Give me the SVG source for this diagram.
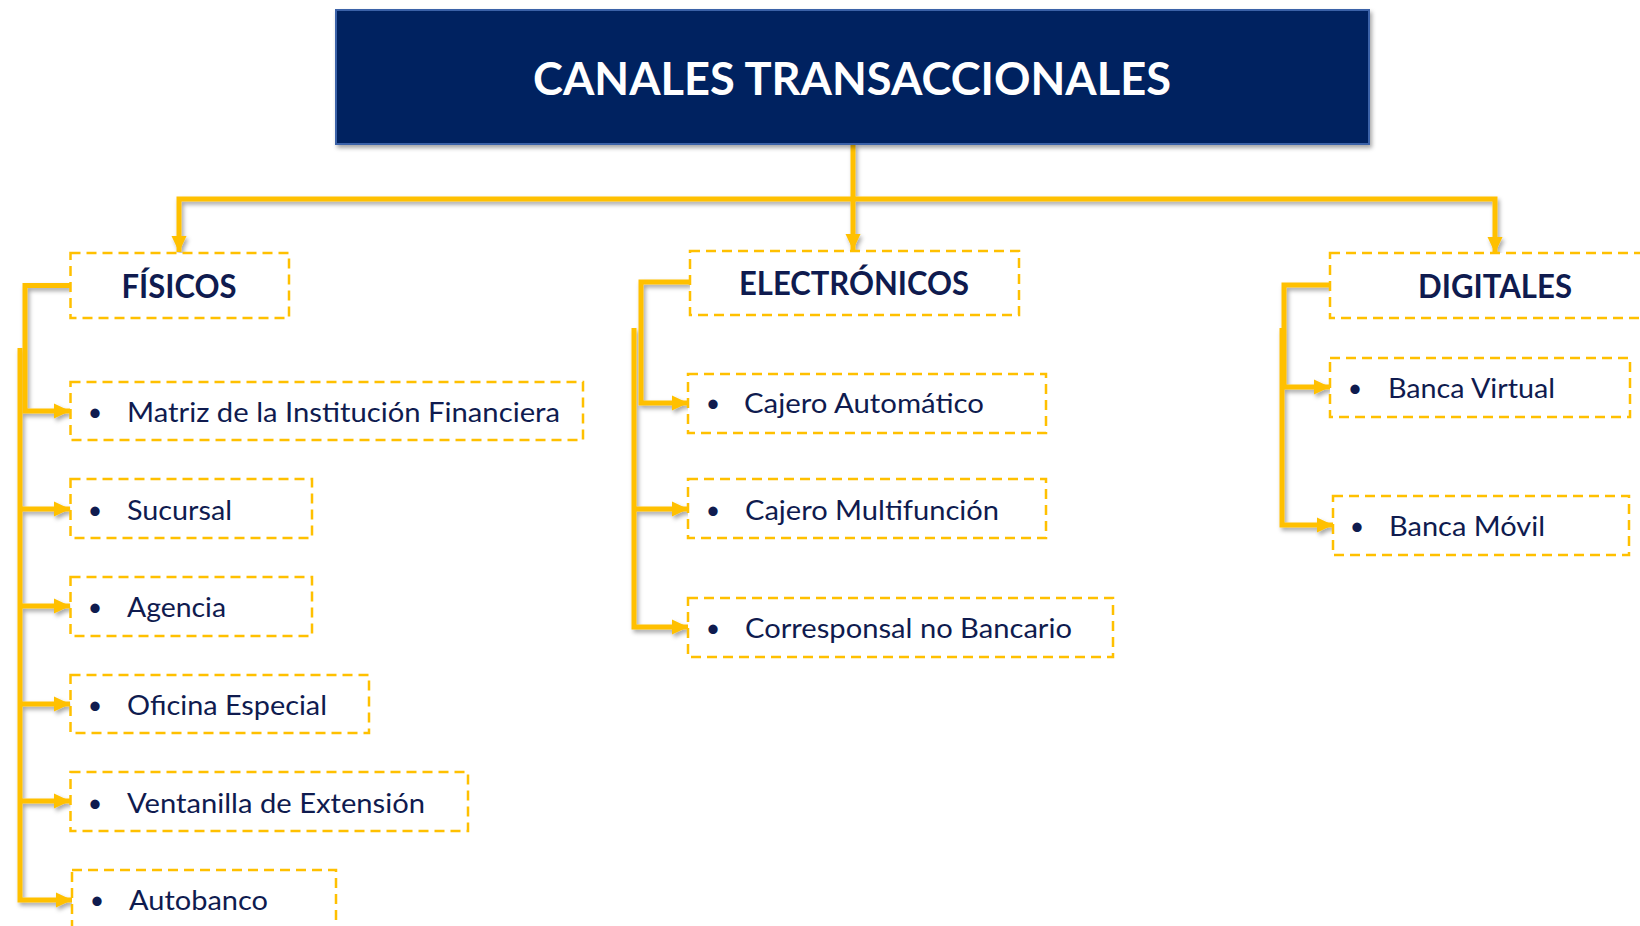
<svg xmlns="http://www.w3.org/2000/svg" width="1640" height="926" viewBox="0 0 1640 926">
<defs>
<style>
.box{fill:#fff;stroke:#FFC000;stroke-width:2.5;stroke-dasharray:10 6}
.head{font-family:Lato,"Open Sans","DejaVu Sans",sans-serif;font-weight:bold;font-size:32px;fill:#0F1B4F;text-anchor:middle}
.item{font-family:Lato,"Open Sans","DejaVu Sans",sans-serif;font-size:27px;fill:#0F1B4F}
.bul{font-family:Lato,"DejaVu Sans",sans-serif;font-size:25px;fill:#0F1B4F;text-anchor:middle}
.ln{fill:none;stroke:#FFC000;stroke-width:5;stroke-linejoin:miter}
.arr{marker-end:url(#ah)}
</style>
<marker id="ah" markerUnits="userSpaceOnUse" markerWidth="16" markerHeight="16" refX="16" refY="8" orient="auto" viewBox="0 0 16 16">
<path d="M0,0.5 L16,8 L0,15.5 z" fill="#FFC000"/>
</marker>
<filter id="sh" x="-20%" y="-20%" width="140%" height="140%">
<feDropShadow dx="2" dy="3" stdDeviation="2" flood-color="#000" flood-opacity="0.35"/>
</filter>
</defs>
<rect width="1640" height="926" fill="#fff"/>

<g id="connectors" filter="url(#sh)">
<path class="ln arr" d="M853,144 V250"/>
<path class="ln arr" d="M853,199 H179 V252"/>
<path class="ln arr" d="M853,199 H1495 V253"/>
<path class="ln arr" d="M70,285.5 H25 V411 H70"/>
<path class="ln arr" d="M20,348 V900 H72"/>
<path class="ln arr" d="M20,509 H70"/>
<path class="ln arr" d="M20,606 H70"/>
<path class="ln arr" d="M20,704 H70"/>
<path class="ln arr" d="M20,801 H70"/>
<path class="ln arr" d="M690,282 H641 V403 H688"/>
<path class="ln arr" d="M634,328 V627 H688"/>
<path class="ln arr" d="M634,509 H688"/>
<path class="ln arr" d="M1330,285 H1284 V387 H1330"/>
<path class="ln arr" d="M1282,328 V525 H1333"/>
</g>

<g id="title">
<rect x="336" y="10" width="1033" height="134" fill="#002060" stroke="#3A62A8" stroke-width="2" filter="url(#sh)"/>
<text x="852" y="95" font-family="Lato,'Open Sans','DejaVu Sans',sans-serif" font-weight="bold" font-size="46" fill="#fff" text-anchor="middle" textLength="638" lengthAdjust="spacingAndGlyphs">CANALES TRANSACCIONALES</text>
</g>

<g id="fisicos">
<rect class="box" x="70.5" y="253" width="218.5" height="65"/>
<text class="head" x="179" y="298" textLength="115" lengthAdjust="spacingAndGlyphs">FÍSICOS</text>
</g>
<g id="electronicos">
<rect class="box" x="690" y="251" width="329" height="64"/>
<text class="head" x="854" y="295" textLength="230" lengthAdjust="spacingAndGlyphs">ELECTRÓNICOS</text>
</g>
<g id="digitales">
<rect class="box" x="1330" y="253" width="330" height="65"/>
<text class="head" x="1495" y="298" textLength="154" lengthAdjust="spacingAndGlyphs">DIGITALES</text>
</g>

<g id="matriz">
<rect class="box" x="70.5" y="382" width="512.5" height="58"/>
<text class="bul" x="95" y="421">•</text>
<text class="item" x="127" y="422" textLength="433" lengthAdjust="spacingAndGlyphs">Matriz de la Institución Financiera</text>
</g>
<g id="sucursal">
<rect class="box" x="70.5" y="479" width="241.5" height="59"/>
<text class="bul" x="95" y="519">•</text>
<text class="item" x="127" y="520" textLength="105" lengthAdjust="spacingAndGlyphs">Sucursal</text>
</g>
<g id="agencia">
<rect class="box" x="70.5" y="577" width="241.5" height="59"/>
<text class="bul" x="95" y="616">•</text>
<text class="item" x="127" y="617" textLength="99" lengthAdjust="spacingAndGlyphs">Agencia</text>
</g>
<g id="oficina">
<rect class="box" x="70.5" y="675" width="298.5" height="58"/>
<text class="bul" x="95" y="714">•</text>
<text class="item" x="127" y="715" textLength="200" lengthAdjust="spacingAndGlyphs">Oficina Especial</text>
</g>
<g id="ventanilla">
<rect class="box" x="70.5" y="772" width="397.5" height="59"/>
<text class="bul" x="95" y="812">•</text>
<text class="item" x="127" y="813" textLength="298" lengthAdjust="spacingAndGlyphs">Ventanilla de Extensión</text>
</g>
<g id="autobanco">
<rect class="box" x="72" y="870" width="264" height="70"/>
<text class="bul" x="97" y="909">•</text>
<text class="item" x="129" y="910" textLength="139" lengthAdjust="spacingAndGlyphs">Autobanco</text>
</g>

<g id="cajero-automatico">
<rect class="box" x="688" y="374" width="358" height="59"/>
<text class="bul" x="713" y="412">•</text>
<text class="item" x="744" y="413" textLength="240" lengthAdjust="spacingAndGlyphs">Cajero Automático</text>
</g>
<g id="cajero-multifuncion">
<rect class="box" x="688" y="479" width="358" height="59"/>
<text class="bul" x="713" y="519">•</text>
<text class="item" x="745" y="520" textLength="254" lengthAdjust="spacingAndGlyphs">Cajero Multifunción</text>
</g>
<g id="corresponsal">
<rect class="box" x="688" y="598" width="425" height="59"/>
<text class="bul" x="713" y="637">•</text>
<text class="item" x="745" y="638" textLength="327" lengthAdjust="spacingAndGlyphs">Corresponsal no Bancario</text>
</g>

<g id="banca-virtual">
<rect class="box" x="1330" y="358" width="300" height="59"/>
<text class="bul" x="1355" y="397">•</text>
<text class="item" x="1388" y="398" textLength="167" lengthAdjust="spacingAndGlyphs">Banca Virtual</text>
</g>
<g id="banca-movil">
<rect class="box" x="1333" y="496" width="296" height="59"/>
<text class="bul" x="1357" y="535">•</text>
<text class="item" x="1389" y="536" textLength="156" lengthAdjust="spacingAndGlyphs">Banca Móvil</text>
</g>
</svg>
